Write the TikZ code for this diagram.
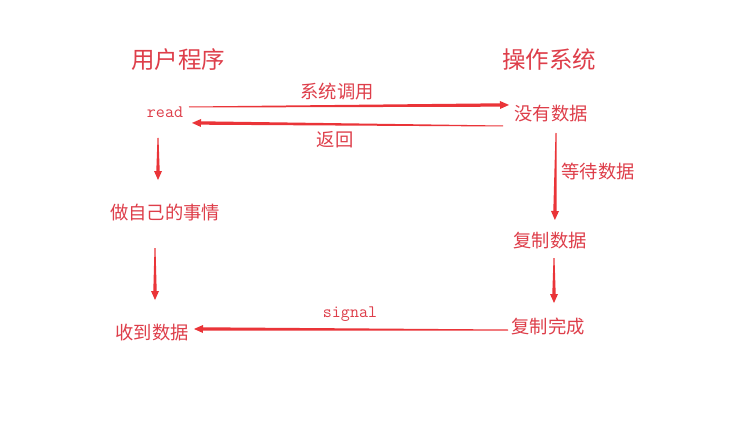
\documentclass[tikz,border=0pt]{standalone}
\usepackage{fontspec}
\newfontfamily\cjk{Noto Sans CJK SC}
\usetikzlibrary{calc}
\definecolor{txtred}{RGB}{222,62,74}
\definecolor{arrred}{RGB}{234,52,56}
\tikzset{
  title/.style={text=txtred,font=\cjk\fontsize{23.5}{26}\selectfont,inner sep=0pt},
  lbl/.style={text=txtred,font=\cjk\fontsize{18.3}{20}\selectfont,inner sep=0pt},
  mono/.style={text=txtred,font=\ttfamily\fontsize{17.5}{19}\selectfont,inner sep=0pt},
}
\newcommand{\taperarrow}[2]{%
  \fill[arrred] ($(#1)!0.5pt!90:(#2)$) -- ($(#2)!1.7pt!-90:(#1)$) -- ($(#2)!1.7pt!90:(#1)$) -- ($(#1)!0.5pt!-90:(#2)$) -- cycle;
  \fill[arrred] ($(#2)!4pt!90:(#1)$) -- ($(#2)!-9pt!(#1)$) -- ($(#2)!4pt!-90:(#1)$) -- cycle;
}
\begin{document}
\begin{tikzpicture}[x=1pt,y=-1pt]
\useasboundingbox[fill=white] (0,0) rectangle (744,441);
\node[title] (user) at (178,60) {用户程序};
\node[title] (os) at (549,60) {操作系统};
\node[mono] (read) at (165,112) {read};
\node[lbl] (nodata) at (551,114) {没有数据};
\node[lbl] (syscall) at (337,92) {系统调用};
\node[lbl] (ret) at (335,140) {返回};
\node[lbl] (own) at (165,213) {做自己的事情};
\node[lbl] (wait) at (598,172) {等待数据};
\node[lbl] (copy) at (550,241) {复制数据};
\node[lbl] (recv) at (152,333) {收到数据};
\node[lbl] (done) at (548,327) {复制完成};
\node[mono] (sig) at (350,314) {signal};
% arrow endpoints (base of arrowhead)
\coordinate (a1s) at (189,107);
\coordinate (a1e) at (500,105);
\coordinate (a2s) at (503,126);
\coordinate (a2e) at (201,123);
\coordinate (a3s) at (158,138);
\coordinate (a3e) at (158,171);
\coordinate (a4s) at (155,248);
\coordinate (a4e) at (155,291);
\coordinate (a5s) at (508,330);
\coordinate (a5e) at (203,329);
\coordinate (a6s) at (556,133);
\coordinate (a6e) at (555,211);
\coordinate (a7s) at (554,258);
\coordinate (a7e) at (554,294);
\taperarrow{a1s}{a1e}
\taperarrow{a2s}{a2e}
\taperarrow{a3s}{a3e}
\taperarrow{a4s}{a4e}
\taperarrow{a5s}{a5e}
\taperarrow{a6s}{a6e}
\taperarrow{a7s}{a7e}
\end{tikzpicture}
\end{document}
